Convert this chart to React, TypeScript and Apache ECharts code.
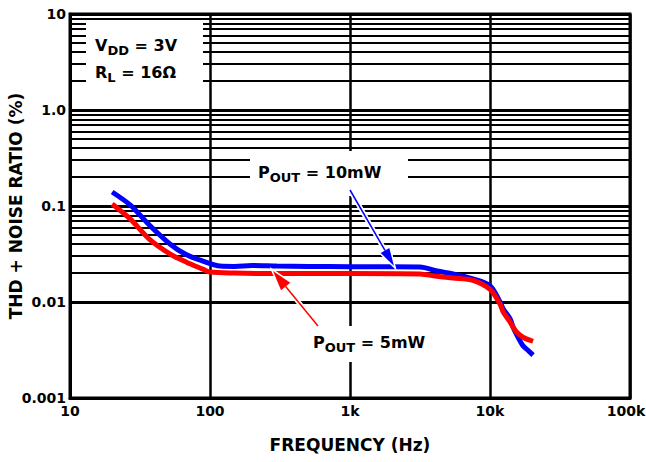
import React, { useEffect, useRef } from "react";
import * as echarts from "echarts";

// 10mW curve (blue)
const freq10mW = [20, 27, 37, 52, 68, 89, 118, 150, 200, 300, 500, 1000, 2000, 3160, 4200, 5450, 7560, 10000, 11800, 12400, 13900, 14600, 15600, 17200, 18400, 20300];
const thd10mW = [0.14, 0.102, 0.063, 0.04, 0.031, 0.0267, 0.0237, 0.0235, 0.024, 0.0237, 0.0235, 0.0233, 0.0233, 0.0232, 0.021, 0.0196, 0.0174, 0.0148, 0.01, 0.0085, 0.0067, 0.0055, 0.0045, 0.0035, 0.0032, 0.0028];
// 5mW curve (red)
const freq5mW = [20, 27, 37, 52, 68, 89, 100, 150, 300, 1000, 3160, 4200, 5450, 7560, 10000, 11800, 12400, 13900, 14600, 15600, 17200, 20300];
const thd5mW = [0.105, 0.073, 0.045, 0.0316, 0.026, 0.022, 0.0205, 0.02, 0.0198, 0.0198, 0.0196, 0.0185, 0.0178, 0.0168, 0.0135, 0.0095, 0.0079, 0.0062, 0.0055, 0.0048, 0.0043, 0.0039];

const xTickValues = [10, 100, 1000, 10000, 100000];
const xTickLabels = ["10", "100", "1k", "10k", "100k"];
const yTickValues = [0.001, 0.01, 0.1, 1, 10];
const yTickLabels = ["0.001", "0.01", "0.1", "1.0", "10"];
const yDecades = [0.001, 0.01, 0.1, 1];
const minorMultipliers = [2, 3, 4, 5, 6, 7, 8, 9];

const FONT = "'DejaVu Sans', 'Liberation Sans', Arial, sans-serif";

function labelFor(values: number[], labels: string[], v: number) {
  const lv = Math.round(Math.log10(v));
  for (let i = 0; i < values.length; i++) {
    if (Math.round(Math.log10(values[i])) === lv) return labels[i];
  }
  return "";
}

function subText(x: number, y: number, main: string, sub: string, rest: string, mainW: number, subW: number, color = "#000") {
  return [
    { type: "text", x, y, z: 30, style: { text: main, fill: color, font: `bold 16px ${FONT}`, textVerticalAlign: "middle" } },
    { type: "text", x: x + mainW, y: y + 5, z: 30, style: { text: sub, fill: color, font: `bold 13px ${FONT}`, textVerticalAlign: "middle" } },
    { type: "text", x: x + mainW + subW, y, z: 30, style: { text: rest, fill: color, font: `bold 16px ${FONT}`, textVerticalAlign: "middle" } },
  ];
}

function arrow(x1: number, y1: number, x2: number, y2: number, color: string, headLen: number, headW: number) {
  const dx = x2 - x1, dy = y2 - y1;
  const len = Math.sqrt(dx * dx + dy * dy);
  const ux = dx / len, uy = dy / len;
  const bx = x2 - ux * headLen, by = y2 - uy * headLen;
  const px = -uy * headW / 2, py = ux * headW / 2;
  return [
    { type: "line", z: 25, shape: { x1, y1, x2: bx, y2: by }, style: { stroke: "#fff", lineWidth: 5 } },
    { type: "polygon", z: 25, shape: { points: [[x2, y2], [bx + px, by + py], [bx - px, by - py]] }, style: { fill: "#fff", stroke: "#fff", lineWidth: 3 } },
    { type: "line", z: 26, shape: { x1, y1, x2: bx, y2: by }, style: { stroke: color, lineWidth: 1.5 } },
    { type: "polygon", z: 26, shape: { points: [[x2, y2], [bx + px, by + py], [bx - px, by - py]] }, style: { fill: color } },
  ];
}

export default function App() {
  const ref = useRef<HTMLDivElement>(null);
  useEffect(() => {
    if (!ref.current) return;
    const chart = echarts.init(ref.current, undefined, { renderer: "svg" });
    const minorLines: { yAxis: number }[] = [];
    yDecades.forEach((d) => minorMultipliers.forEach((m) => minorLines.push({ yAxis: d * m })));

    chart.setOption({
      animation: false,
      backgroundColor: "#fff",
      grid: {
        left: 70, right: 16, top: 14, bottom: 64,
        containLabel: false, outerBoundsMode: "none",
        show: true, borderColor: "#000", borderWidth: 3, backgroundColor: "transparent",
      },
      xAxis: {
        type: "log",
        logBase: 10,
        min: 10,
        max: 100000,
        name: "FREQUENCY (Hz)",
        nameLocation: "middle",
        nameGap: 38,
        nameTextStyle: { fontFamily: FONT, fontWeight: "bold", fontSize: 17, color: "#000" },
        axisLine: { show: true, lineStyle: { color: "#000", width: 3 } },
        axisTick: { show: false },
        axisLabel: {
          fontFamily: FONT, fontWeight: "bold", fontSize: 14, color: "#000", margin: 6,
          formatter: (v: number) => {
            const t = labelFor(xTickValues, xTickLabels, v);
            return t === "100k" ? `{r|${t}}` : t;
          },
          rich: { r: { fontFamily: FONT, fontWeight: "bold", fontSize: 14, color: "#000", padding: [0, 8, 0, 0] } },
        },
        splitLine: { show: true, lineStyle: { color: "#000", width: 2.5 } },
        minorTick: { show: false },
      },
      yAxis: {
        type: "log",
        logBase: 10,
        min: 0.001,
        max: 10,
        name: "THD + NOISE RATIO (%)",
        nameLocation: "middle",
        nameGap: 46,
        nameMoveOverlap: false,
        nameTextStyle: { fontFamily: FONT, fontWeight: "bold", fontSize: 17, color: "#000" },
        axisLine: { show: true, lineStyle: { color: "#000", width: 3 } },
        axisTick: { show: false },
        axisLabel: {
          fontFamily: FONT, fontWeight: "bold", fontSize: 14, color: "#000", margin: 4,
          formatter: (v: number) => labelFor(yTickValues, yTickLabels, v),
        },
        splitLine: { show: true, lineStyle: { color: "#000", width: 3 } },
      },
      series: [
        {
          type: "line",
          name: "grid",
          data: [],
          z: 1,
          silent: true,
          markLine: {
            z: 1,
            silent: true,
            symbol: "none",
            label: { show: false },
            lineStyle: { color: "#000", width: 2, type: "solid" },
            data: minorLines,
          },
        },
        {
          type: "line",
          name: "POUT = 10mW",
          data: freq10mW.map((f, i) => [f, thd10mW[i]]),
          showSymbol: false,
          smooth: 0.3,
          z: 3,
          lineStyle: { color: "#0000ff", width: 5 },
        },
        {
          type: "line",
          name: "POUT = 5mW",
          data: freq5mW.map((f, i) => [f, thd5mW[i]]),
          showSymbol: false,
          smooth: 0.3,
          z: 4,
          lineStyle: { color: "#ff0000", width: 5 },
        },
      ],
      graphic: [
        { type: "rect", z: 10, shape: { x: 86, y: 20, width: 117, height: 72 }, style: { fill: "#fff" } },
        { type: "rect", z: 10, shape: { x: 250, y: 151, width: 158, height: 45 }, style: { fill: "#fff" } },
        { type: "rect", z: 10, shape: { x: 305, y: 326, width: 147, height: 36 }, style: { fill: "#fff" } },
        ...subText(95, 45, "V", "DD", " = 3V", 12.4, 21.6),
        ...subText(95, 72, "R", "L", " = 16Ω", 12.3, 8.3),
        ...subText(258, 172, "P", "OUT", " = 10mW", 11.7, 30.5),
        ...subText(313, 342, "P", "OUT", " = 5mW", 11.7, 30.5),
        ...arrow(350, 190, 394, 266, "#0000ff", 18, 10),
        ...arrow(318, 326, 273, 271, "#ff0000", 20, 12),
      ],
    });
    return () => chart.dispose();
  }, []);
  return <div ref={ref} style={{ position: "absolute", left: 0, top: 0, width: 646, height: 462 }} />;
}
